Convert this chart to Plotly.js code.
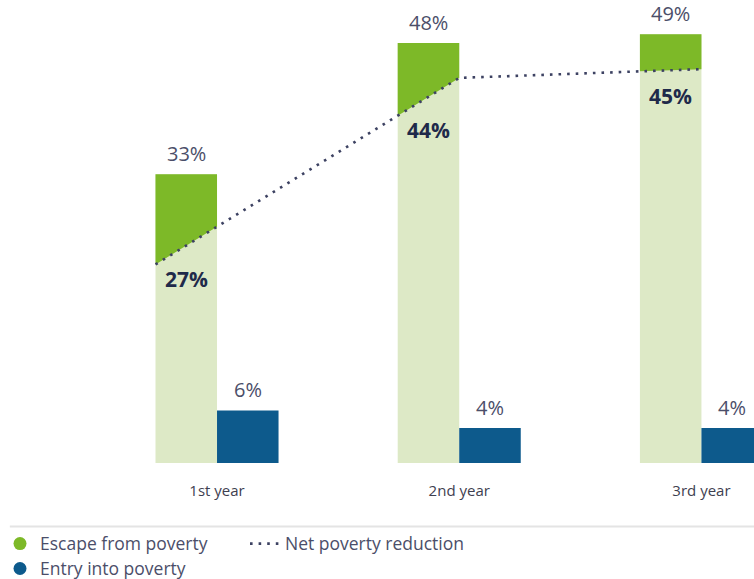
<!DOCTYPE html>
<html>
<head>
<meta charset="utf-8">
<script src="https://cdn.plot.ly/plotly-3.0.1.min.js"></script>
<style>html,body{margin:0;padding:0;background:#fff;}#chart{width:754px;height:579px;}</style>
</head>
<body>
<div id="chart"></div>
<script>
// ---- data ----
const categories = ['1st year', '2nd year', '3rd year'];
const escapeFromPoverty = [33, 48, 49];
const netPovertyReduction = [27, 44, 45];
const entryIntoPoverty = [6, 4, 4];
const seriesNames = ['Escape from poverty', 'Net poverty reduction', 'Entry into poverty'];

// ---- style ----
const C_LIGHT = '#dde9c6';
const C_DARK = '#7db928';
const C_BLUE = '#0d5a8c';
const C_LINE = '#3d4262';
const C_TEXT = '#4b4e69';
const C_BOLD = '#1f2a4a';
const FONT = 'Open Sans, Lato, sans-serif';
const W = 0.254;                 // bar width in category units
const netLabelShift = [-52, -52, -27];

const xs = categories.map((_, i) => i);

// line through the net values at the right edge of each green bar, extended to left edge of first bar
function lineAtLeft(i) {
  if (i === 0) return netPovertyReduction[0] - (netPovertyReduction[1] - netPovertyReduction[0]) * W;
  return netPovertyReduction[i] - (netPovertyReduction[i] - netPovertyReduction[i - 1]) * W;
}

const polyX = [], polyY = [];
xs.forEach((x, i) => {
  const xl = x - W, xr = x;
  polyX.push(xl, xl, xr, xr, xl, null);
  polyY.push(lineAtLeft(i), escapeFromPoverty[i], escapeFromPoverty[i], netPovertyReduction[i], lineAtLeft(i), null);
});

const lineX = [xs[0] - W].concat(xs);
const lineY = [lineAtLeft(0)].concat(netPovertyReduction);

const traces = [
  { type: 'bar', x: xs, y: escapeFromPoverty, width: xs.map(() => W), offset: xs.map(() => -W),
    marker: { color: C_LIGHT, line: { width: 0 } }, showlegend: false, hoverinfo: 'skip', name: seriesNames[0] },
  { type: 'bar', x: xs, y: entryIntoPoverty, width: xs.map(() => W), offset: xs.map(() => 0),
    marker: { color: C_BLUE, line: { width: 0 } }, showlegend: false, hoverinfo: 'skip', name: seriesNames[2] },
  { type: 'scatter', x: polyX, y: polyY, mode: 'none', fill: 'toself', fillcolor: C_DARK,
    showlegend: false, hoverinfo: 'skip' },
  // legend entries
  { type: 'scatter', x: [null], y: [null], mode: 'markers', name: seriesNames[0],
    marker: { color: C_DARK, size: 13, symbol: 'circle' }, legend: 'legend' },
  { type: 'scatter', x: lineX, y: lineY, mode: 'lines', name: seriesNames[1],
    line: { color: C_LINE, width: 2.6, dash: '2.6px,6px' }, legend: 'legend' },
  { type: 'scatter', x: [null], y: [null], mode: 'markers', name: seriesNames[2],
    marker: { color: C_BLUE, size: 13, symbol: 'circle' }, legend: 'legend2' }
];

const annotations = [];
xs.forEach((x, i) => {
  annotations.push({ x: x - W / 2, y: escapeFromPoverty[i], text: escapeFromPoverty[i] + '%', showarrow: false,
    yanchor: 'bottom', yshift: 5, font: { family: FONT, size: 20, color: C_TEXT } });
  annotations.push({ x: x - W / 2, y: netPovertyReduction[i], text: '<b>' + netPovertyReduction[i] + '%</b>', showarrow: false,
    yanchor: 'middle', yshift: netLabelShift[i], font: { family: FONT, size: 21, color: C_BOLD } });
  annotations.push({ x: x + W / 2, y: entryIntoPoverty[i], text: entryIntoPoverty[i] + '%', showarrow: false,
    yanchor: 'bottom', yshift: 5, font: { family: FONT, size: 20, color: C_TEXT } });
});

const layout = {
  width: 754, height: 579,
  margin: { l: 0, r: 0, t: 0, b: 116, pad: 0, autoexpand: false },
  paper_bgcolor: '#fff', plot_bgcolor: '#fff',
  barmode: 'overlay',
  font: { family: FONT, color: C_TEXT },
  xaxis: {
    range: [-0.896, 2.217], tickmode: 'array', tickvals: xs, ticktext: categories,
    showgrid: false, zeroline: false, showline: false, automargin: false,
    ticks: 'outside', ticklen: 14, tickcolor: 'rgba(0,0,0,0)',
    tickfont: { family: FONT, size: 15, color: '#3e4050' }, fixedrange: true
  },
  yaxis: { range: [0, 52.9], visible: false, showgrid: false, zeroline: false, fixedrange: true },
  shapes: [
    { type: 'line', xref: 'paper', yref: 'paper', x0: 0.013, x1: 1, y0: -0.137, y1: -0.137,
      line: { color: '#e4e4e4', width: 2 } }
  ],
  annotations: annotations,
  legend: {
    orientation: 'h', x: 0, xanchor: 'left', yref: 'container', y: 0.092, yanchor: 'top',
    entrywidth: 200, font: { family: FONT, size: 17.5, color: C_TEXT }, bgcolor: 'rgba(0,0,0,0)',
    itemclick: false, itemdoubleclick: false
  },
  legend2: {
    orientation: 'h', x: 0, xanchor: 'left', yref: 'container', y: 0.049, yanchor: 'top',
    font: { family: FONT, size: 17.5, color: C_TEXT }, bgcolor: 'rgba(0,0,0,0)',
    itemclick: false, itemdoubleclick: false
  },
  showlegend: true
};

Plotly.newPlot('chart', traces, layout, { displayModeBar: false, staticPlot: true });
</script>
</body>
</html>
